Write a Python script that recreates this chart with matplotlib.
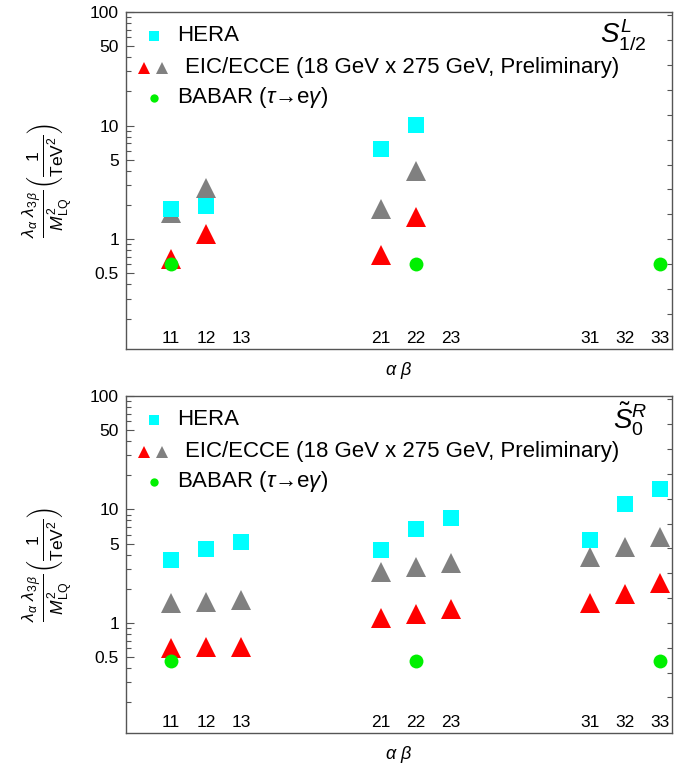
import numpy as np
import matplotlib
matplotlib.use("Agg")
import matplotlib.pyplot as plt
from matplotlib.lines import Line2D
from matplotlib.ticker import FixedLocator, FuncFormatter, NullFormatter, NullLocator
import matplotlib.transforms as mtransforms

plt.rcParams['font.family'] = ['Liberation Sans', 'DejaVu Sans']
plt.rcParams['mathtext.fontset'] = 'custom'
plt.rcParams['mathtext.rm'] = 'Liberation Sans'
plt.rcParams['mathtext.it'] = 'Liberation Sans:italic'
plt.rcParams['mathtext.bf'] = 'Liberation Sans:bold'

# flavour indices alpha beta
pairs = ['11', '12', '13', '21', '22', '23', '31', '32', '33']

# S_{1/2}^L limits (1/TeV^2)
hera_L = [1.84, 1.94, np.nan, 6.2, 10.2, np.nan, np.nan, np.nan, np.nan]
eic_gray_L = [1.7, 2.8, np.nan, 1.84, 3.96, np.nan, np.nan, np.nan, np.nan]
eic_red_L = [0.667, 1.1, np.nan, 0.73, 1.56, np.nan, np.nan, np.nan, np.nan]
babar_L = [0.6, np.nan, np.nan, np.nan, 0.6, np.nan, np.nan, np.nan, 0.6]

# ~S_0^R limits (1/TeV^2)
hera_R = [3.61, 4.48, 5.18, 4.42, 6.68, 8.43, 5.42, 11.2, 15.3]
eic_gray_R = [1.5, 1.54, 1.58, 2.82, 3.13, 3.4, 3.82, 4.63, 5.73]
eic_red_R = [0.6, 0.61, 0.62, 1.11, 1.21, 1.34, 1.51, 1.81, 2.26]
babar_R = [0.46, np.nan, np.nan, np.nan, 0.46, np.nan, np.nan, np.nan, 0.46]

CYAN = '#00ffff'
RED = '#ff0000'
GRAY = '#808080'
GREEN = '#00f000'
FRAME = '#555555'

# groups of three, separated by gaps
xpos = [(int(p[0]) - 1) * 6 + int(p[1]) - 1 for p in pairs]

ylab = (r'$\frac{\lambda_{\alpha}\ \lambda_{3\,\beta}}{M_{\mathrm{LQ}}^{2}}'
        r'\left(\frac{1}{\mathrm{TeV}^{2}}\right)$')

fig = plt.figure(figsize=(6.91, 7.64), dpi=100)
ax_top = fig.add_axes([0.1823, 0.5432, 0.7902, 0.4411])
ax_bot = fig.add_axes([0.1823, 0.0410, 0.7902, 0.4407])


def panel(ax, hera, gray, red, babar, tag):
    ax.plot(xpos, gray, ls='none', marker='^', ms=13.9, color=GRAY, mew=0, zorder=3)
    ax.plot(xpos, red, ls='none', marker='^', ms=13.9, color=RED, mew=0, zorder=3)
    ax.plot(xpos, hera, ls='none', marker='s', ms=11, color=CYAN, mew=0, zorder=4)
    ax.plot(xpos, babar, ls='none', marker='o', ms=10, color=GREEN, mew=0, zorder=5)

    ax.set_yscale('log')
    ax.set_ylim(0.108, 100)
    ax.set_xlim(-1.29, 14.34)

    major = [0.5, 1, 5, 10, 50, 100]
    minor = [m * 10.0 ** d for d in range(-1, 2) for m in (2, 3, 4, 6, 7, 8, 9)]
    ax.yaxis.set_major_locator(FixedLocator(major))
    ax.yaxis.set_major_formatter(FuncFormatter(lambda v, p: '%g' % v))
    ax.yaxis.set_minor_locator(FixedLocator(minor))
    ax.yaxis.set_minor_formatter(NullFormatter())
    ax.tick_params(axis='y', which='major', direction='in', length=6, width=0.8,
                   color=FRAME, labelsize=12.5, pad=5, right=False)
    ax.tick_params(axis='y', which='minor', direction='in', length=3.5, width=0.8,
                   color=FRAME, right=False)

    ax.set_xticks([])
    trans = mtransforms.blended_transform_factory(ax.transData, ax.transAxes)
    for x, p in zip(xpos, pairs):
        ax.text(x, 0.017, p, transform=trans, ha='center', va='baseline', fontsize=12.5)

    for s in ax.spines.values():
        s.set_color(FRAME)
        s.set_linewidth(1.0)

    # evenly spaced marks on the right frame
    rt = ax.twinx()
    rt.set_yscale('log')
    rt.set_ylim(ax.get_ylim())
    rt.yaxis.set_major_locator(FixedLocator([10 ** (0.2188 * k) for k in range(-3, 10)]))
    rt.yaxis.set_major_formatter(NullFormatter())
    rt.yaxis.set_minor_locator(NullLocator())
    rt.tick_params(axis='y', direction='in', length=3.5, width=0.8, color=FRAME)
    for s in rt.spines.values():
        s.set_visible(False)

    ax.text(-0.145, 0.5, ylab, transform=ax.transAxes, rotation=90,
            ha='center', va='center', fontsize=18)
    ax.text(0.5, -0.065, r'$\alpha\ \beta$', transform=ax.transAxes,
            ha='center', va='center', fontsize=13)
    ax.text(0.954, 0.93, tag, transform=ax.transAxes, ha='right', va='center',
            fontsize=20)

    # legend
    ta = ax.transAxes
    ax.add_line(Line2D([0.0513], [0.929], marker='s', ms=7, color=CYAN, mew=0,
                       ls='none', transform=ta))
    ax.text(0.0934, 0.929, 'HERA', transform=ta, va='center', fontsize=16)
    ax.add_line(Line2D([0.033], [0.834], marker='^', ms=8, color=RED, mew=0,
                       ls='none', transform=ta))
    ax.add_line(Line2D([0.066], [0.834], marker='^', ms=8, color=GRAY, mew=0,
                       ls='none', transform=ta))
    ax.text(0.108, 0.834, 'EIC/ECCE (18 GeV x 275 GeV, Preliminary)', transform=ta,
            va='center', fontsize=16)
    ax.add_line(Line2D([0.0513], [0.745], marker='o', ms=6, color=GREEN, mew=0,
                       ls='none', transform=ta))
    ax.text(0.0934, 0.745, 'BABAR ($\\tau$\u2192e$\\gamma$)',
            transform=ta, va='center', fontsize=16)


panel(ax_top, hera_L, eic_gray_L, eic_red_L, babar_L, r'$S^{L}_{1/2}$')
panel(ax_bot, hera_R, eic_gray_R, eic_red_R, babar_R, r'$\tilde{S}^{R}_{0}$')

fig.savefig('out.png', dpi=100)
